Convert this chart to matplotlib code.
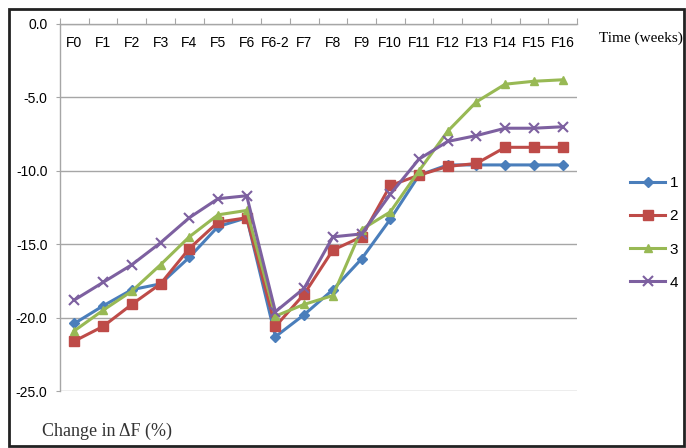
import matplotlib.pyplot as plt
from matplotlib.patches import Rectangle
import numpy as np

categories = ['F0', 'F1', 'F2', 'F3', 'F4', 'F5', 'F6', 'F6-2', 'F7', 'F8',
              'F9', 'F10', 'F11', 'F12', 'F13', 'F14', 'F15', 'F16']

s1 = [-20.4, -19.2, -18.1, -17.7, -15.9, -13.8, -13.2, -21.3, -19.8, -18.1,
      -16.0, -13.3, -10.3, -9.6, -9.6, -9.6, -9.6, -9.6]
s2 = [-21.6, -20.6, -19.1, -17.7, -15.3, -13.5, -13.2, -20.6, -18.4, -15.4,
      -14.5, -11.0, -10.3, -9.7, -9.5, -8.4, -8.4, -8.4]
s3 = [-20.9, -19.5, -18.2, -16.4, -14.5, -13.0, -12.7, -19.9, -19.1, -18.5,
      -14.0, -12.8, -10.0, -7.3, -5.3, -4.1, -3.9, -3.8]
s4 = [-18.8, -17.6, -16.4, -14.9, -13.2, -11.9, -11.7, -19.6, -18.0, -14.5,
      -14.3, -11.6, -9.2, -8.0, -7.6, -7.1, -7.1, -7.0]

series = [('1', s1, '#4A7EBB', 'D', 5),
          ('2', s2, '#BE4B48', 's', 7),
          ('3', s3, '#98B954', '^', 6),
          ('4', s4, '#7D60A0', 'x', 7)]

sans = ['Liberation Sans', 'DejaVu Sans']
serif = ['Liberation Serif', 'DejaVu Serif']

fig = plt.figure(figsize=(6.86, 4.48), dpi=100)
W, H = 686, 448
ax = fig.add_axes([60 / W, 1 - 391 / H, 517 / W, 367 / H])

x = np.arange(len(categories))
for name, vals, col, mk, ms in series:
    ax.plot(x, vals, color=col, lw=2.2, marker=mk, ms=ms, mew=1.5 if mk == 'x' else 1,
            label=name)

ax.set_xlim(-0.5, len(categories) - 0.5)
ax.set_ylim(-25, 0)
ax.set_yticks([0, -5, -10, -15, -20, -25])
ax.set_yticklabels(['0.0', '-5.0', '-10.0', '-15.0', '-20.0', '-25.0'],
                   family=sans, fontsize=10)
ax.yaxis.grid(True, color='#a6a6a6', lw=1)
ax.set_axisbelow(True)

for s in ['right', 'bottom']:
    ax.spines[s].set_visible(False)
for s in ['left', 'top']:
    ax.spines[s].set_color('#a6a6a6')
    ax.spines[s].set_linewidth(1)

# category boundaries get the tick marks, centres get the labels
ax.set_xticks(np.arange(-0.5, len(categories)), minor=False)
ax.set_xticks(x, minor=True)
ax.set_xticklabels(categories, minor=True, family=sans, fontsize=10)
ax.tick_params(axis='x', which='major', top=True, bottom=False, labeltop=False,
               labelbottom=False, length=4, color='#a6a6a6', direction='out')
ax.tick_params(axis='x', which='minor', top=True, bottom=False, labeltop=True,
               labelbottom=False, length=0, pad=-19)
ax.tick_params(axis='y', length=3, color='#a6a6a6', pad=6)

fig.text(683 / W, 1 - 38 / H, 'Time (weeks)', family=serif, fontsize=11,
         ha='right', va='center')
fig.text(42 / W, 1 - 431 / H, 'Change in \u0394F (%)', family=serif, fontsize=13,
         ha='left', va='center', color='#333333')

leg = ax.legend(loc='center left', bbox_to_anchor=(630 / W, 1 - 233 / H),
                bbox_transform=fig.transFigure, frameon=False, handlelength=2.3,
                labelspacing=1.25, prop={'family': sans, 'size': 11},
                handletextpad=0.3, borderpad=0, borderaxespad=0)

fig.patches.append(Rectangle((9 / W, 2 / H), 675 / W, 437 / H,
                             transform=fig.transFigure, fill=False,
                             edgecolor='#222222', lw=2))

fig.savefig('out.png', dpi=100)
